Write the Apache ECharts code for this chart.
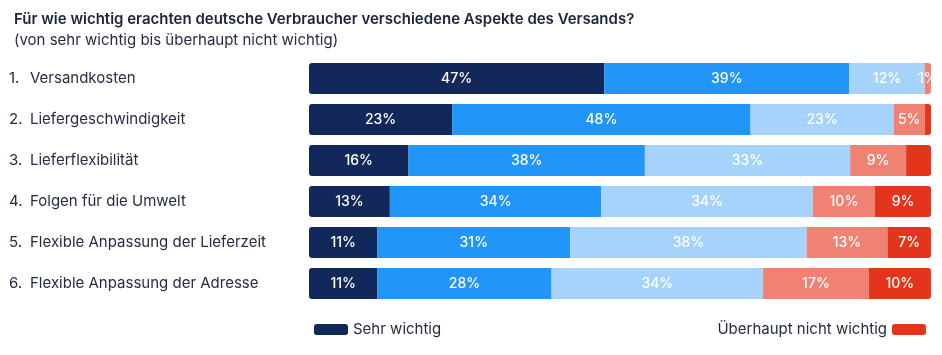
<!DOCTYPE html>
<html><head><meta charset="utf-8">
<script src="https://cdn.jsdelivr.net/npm/echarts@6/dist/echarts.min.js"></script>
<style>html,body{margin:0;padding:0;background:#fff}#c{width:942px;height:355px}</style>
</head><body><div id="c"></div>
<script>
var title = 'Für wie wichtig erachten deutsche Verbraucher verschiedene Aspekte des Versands?';
var subtitle = '(von sehr wichtig bis überhaupt nicht wichtig)';
var categories = ['Versandkosten','Liefergeschwindigkeit','Lieferflexibilität','Folgen für die Umwelt','Flexible Anpassung der Lieferzeit','Flexible Anpassung der Adresse'];
var seriesNames = ['Sehr wichtig','Wichtig','Weniger wichtig','Eher nicht wichtig','Überhaupt nicht wichtig'];
var sehrWichtig     = [47,23,16,13,11,11];
var wichtig         = [39,48,38,34,31,28];
var wenigerWichtig  = [12,23,33,34,38,34];
var eherNicht       = [1,5,9,10,13,17];
var ueberhauptNicht = [0,1,4,9,7,10];
var colors = ['#13285A','#2196F8','#A6D3FB','#EF8272','#E3341C'];

var all = [sehrWichtig,wichtig,wenigerWichtig,eherNicht,ueberhauptNicht];
var totals = categories.map(function(_,i){var s=0;all.forEach(function(a){s+=a[i];});return s;});
var lastIdx = categories.map(function(_,i){var l=0;all.forEach(function(a,k){if(a[i]>0)l=k;});return l;});
var series = all.map(function(arr,k){
  return {
    name: seriesNames[k], type:'bar', stack:'t', barWidth:31,
    itemStyle:{color:colors[k]},
    data: arr.map(function(v,i){
      var r=[0,0,0,0];
      if(k===0){r[0]=3;r[3]=3;}
      if(k===lastIdx[i]){r[1]=3;r[2]=3;}
      return {value: v/totals[i]*100, raw: v, itemStyle:{borderRadius:r}};
    }),
    label:{show:true, position:'inside', color:'#fff', fontFamily:'Inter', fontSize:14, fontWeight:500,
      formatter:function(p){var v=p.data.raw; if(v===0) return ''; if(k===4 && v<6) return ''; return v+'%';}}
  };
});

var txt = '#262c42';
var chart = echarts.init(document.getElementById('c'));
chart.setOption({
  animation:false,
  textStyle:{fontFamily:'Inter'},
  title:[
    {text:title, left:9, top:7, textStyle:{fontSize:15, fontWeight:600, color:'#1d2438', fontFamily:'Inter'}},
    {text:subtitle, left:9, top:28, textStyle:{fontSize:15, fontWeight:'normal', color:txt, fontFamily:'Inter'}}
  ],
  grid:{left:309, right:11, top:58, height:246},
  xAxis:{type:'value', min:0, max:100, show:false},
  yAxis:{type:'category', inverse:true, data:categories,
    axisLine:{show:false}, axisTick:{show:false},
    axisLabel:{align:'left', margin:300,
      formatter:function(v,i){return '{n|'+(i+1)+'.}{t|'+v+'}';},
      rich:{n:{width:21, fontSize:15, color:txt, fontFamily:'Inter'}, t:{fontSize:15, color:txt, fontFamily:'Inter'}}}},
  legend:[
    {data:['Sehr wichtig'], left:309, top:317, icon:'roundRect', itemWidth:34, itemHeight:11, itemGap:10,
      textStyle:{fontSize:15, color:txt, fontFamily:'Inter'}, selectedMode:false},
    {data:['Überhaupt nicht wichtig'], right:11, top:317, align:'right', icon:'roundRect', itemWidth:34, itemHeight:11,
      textStyle:{fontSize:15, color:txt, fontFamily:'Inter'}, selectedMode:false}
  ],
  series: series
});
</script></body></html>
